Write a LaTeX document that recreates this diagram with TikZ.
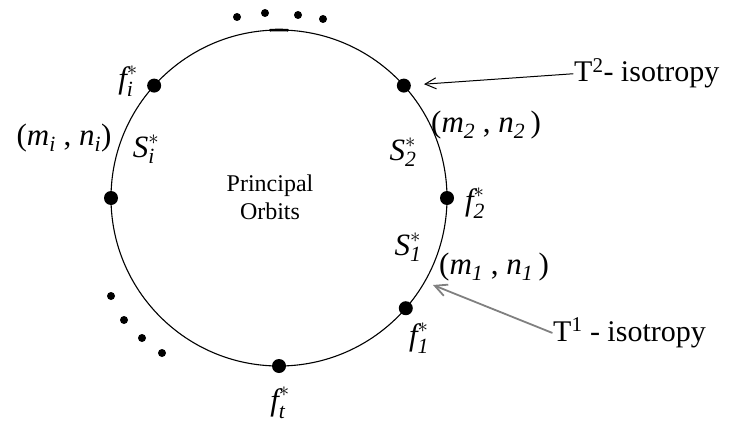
\documentclass[tikz,border=0pt]{standalone}
\usepackage{amsmath}
\usepackage{fontspec}
\setmainfont{Liberation Serif}
\usetikzlibrary{arrows.meta}
\newcommand\mi[1]{\textit{#1}}
\newcommand\fst[1]{$\mi{f}^{*}_{\mi{#1}}$}
\newcommand\sst[1]{$\mi{S}^{*}_{\mi{#1}}$}
\newcommand\mnp[2]{(\mi{m}$_{\mi{#1}}$ , \mi{n}$_{\mi{#1}}$#2)}

\begin{document}
\begin{tikzpicture}[x=1pt,y=1pt,line cap=round,
  bigdot/.style={circle,fill=black,inner sep=0pt,minimum size=14pt},
  smalldot/.style={circle,fill=black,inner sep=0pt,minimum size=8pt},
  lbl/.style={font=\fontsize{31}{34}\selectfont,inner sep=0pt},
  iso/.style={font=\fontsize{30}{34}\selectfont,inner sep=1pt}]
\useasboundingbox (0,0) rectangle (730,424);
\coordinate (O) at (279,226);
\draw[line width=1.1pt] (O) circle[radius=168pt];
\draw[line width=2.6pt] ([shift={(93:168)}]O) arc[start angle=93,end angle=87,radius=168pt];
% points on the orbit
\begin{scope}[shift={(O)}]
\node[bigdot] (fi) at (138:168) {};
\node[bigdot] (fl) at (180:168) {};
\node[bigdot] (ftwoiso) at (42:168) {};
\node[bigdot] (ftwo) at (0:168) {};
\node[bigdot] (fone) at (-41:168) {};
\node[bigdot] (ft) at (-90:168) {};
\end{scope}
\coordinate (onetip) at (433,139);
% dots for the missing points
\foreach \p [count=\k] in {(237,407),(265,411),(298,409),(323,405)}
  \node[smalldot] (up\k) at \p {};
\foreach \p [count=\k] in {(111,128),(124,104),(142,86),(162,71)}
  \node[smalldot] (low\k) at \p {};
% labels
\node[lbl] (lfi) at (128,343) {\fst{i}};
\node[lbl] (lmi) at (64,286) {\mnp{i}{}};
\node[lbl] (lsi) at (146,275) {\sst{i}};
\node[lbl] (lmtwo) at (486,299) {\mnp{2}{\,}};
\node[lbl] (lstwo) at (403,272) {\sst{2}};
\node[lbl] (lftwo) at (475,221) {\fst{2}};
\node[lbl] (lsone) at (408,177) {\sst{1}};
\node[lbl] (lmone) at (494,157) {\mnp{1}{\,}};
\node[lbl] (lfone) at (419,86) {\fst{1}};
\node[lbl] (lft) at (280,21) {\fst{t}};
\node[font=\fontsize{24}{28}\selectfont,align=center] (po) at (270,227) {Principal\\Orbits};
\node[iso,anchor=base west] (isotwo) at (573,342) {T\textsuperscript{2}- isotropy};
\node[iso,anchor=base west] (isoone) at (552,83) {T\textsuperscript{1} - isotropy};
\draw[-{Straight Barb[length=11pt,width=11pt]},line width=1pt] (isotwo.west) -- (ftwoiso) [shorten >=13pt];
\draw[-{Straight Barb[length=12pt,width=12pt]},gray,line width=1.8pt] (isoone.west) -- (onetip);
\end{tikzpicture}
\end{document}
